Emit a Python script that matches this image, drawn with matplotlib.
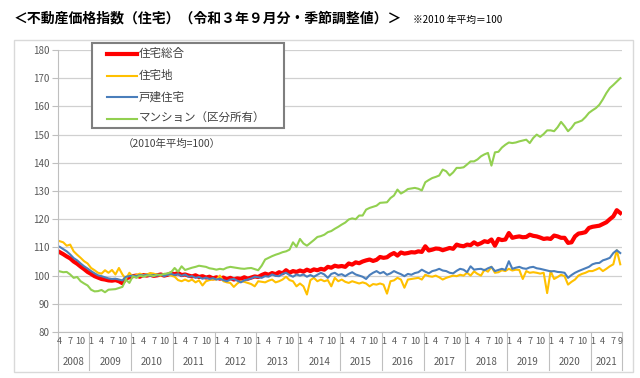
import matplotlib.pyplot as plt
from matplotlib.lines import Line2D
from matplotlib.patches import Rectangle

plt.rcParams['font.family'] = ['Noto Sans CJK JP', 'DejaVu Sans']

# monthly series, Apr 2008 - Sep 2021 (2010 average = 100)
years = list(range(2008, 2022))
start_month = 4
end_month = 9

total = [
    108.3, 107.6, 106.8, 106.1, 105.0, 104.2, 103.2, 102.3, 101.3,
    100.6, 99.8, 99.3, 98.8, 98.6, 98.3, 98.2, 98.4, 98.0, 97.3, 99.0, 99.4,
    99.8, 100.0, 99.6, 100.2, 100.0, 100.3, 99.9, 100.1, 100.4, 100.0, 100.3, 100.8,
    100.5, 100.9, 100.2, 100.4, 100.0, 99.7, 100.1, 99.5, 99.8, 99.3, 99.6, 99.0,
    99.4, 98.9, 99.3, 98.7, 99.2, 98.6, 99.0, 98.8, 99.4, 98.9, 99.3, 99.7,
    99.5, 100.2, 100.7, 100.3, 100.9, 100.5, 101.2, 100.8, 101.9, 101.0, 101.6, 101.3,
    101.8, 101.4, 102.1, 101.6, 102.2, 101.9, 102.4, 102.1, 103.1, 102.8, 103.5, 103.2,
    103.4, 103.1, 104.3, 103.9, 104.7, 104.4, 105.0, 105.4, 105.7, 105.2, 105.6, 106.6,
    106.3, 106.5, 107.4, 108.0, 107.1, 108.2, 107.8, 108.0, 108.3, 108.2, 108.6, 108.4,
    110.4, 108.9, 109.2, 109.6, 109.5, 109.0, 109.4, 109.8, 109.5, 111.0, 110.6, 110.4,
    111.0, 110.8, 111.8, 111.0, 111.5, 112.2, 111.9, 112.8, 110.6, 113.0, 112.6, 112.8,
    115.1, 113.4, 113.7, 113.9, 113.6, 113.7, 114.5, 114.1, 113.9, 113.5, 113.0, 113.2,
    113.0, 114.2, 113.9, 113.4, 113.4, 111.6, 111.8, 113.9, 114.9, 115.1, 115.4, 116.9,
    117.3, 117.5, 117.7, 118.3, 118.9, 120.0, 121.0, 123.2, 122.2,
]

land = [
    112.2, 111.8, 110.6, 111.0, 108.6, 107.4, 106.3, 105.1, 104.3,
    102.7, 101.9, 101.0, 100.7, 101.9, 101.0, 102.0, 100.4, 102.7, 100.4, 98.8, 101.0,
    99.6, 100.2, 100.7, 100.2, 100.4, 100.9, 100.7, 100.2, 100.0, 100.6, 100.4, 100.0,
    99.6, 98.4, 98.0, 98.6, 98.0, 98.6, 97.6, 98.3, 96.5, 98.0, 98.4, 98.6,
    98.6, 100.0, 98.0, 97.6, 97.4, 96.0, 97.2, 98.0, 97.8, 97.4, 97.0, 96.2,
    98.0, 97.8, 97.6, 98.2, 98.6, 97.6, 98.0, 98.6, 99.6, 98.4, 98.0, 96.2,
    97.2, 96.2, 93.3, 98.4, 99.2, 98.0, 98.6, 98.0, 98.4, 96.2, 99.2, 98.0,
    98.6, 97.8, 97.4, 98.0, 97.6, 97.2, 97.6, 97.2, 96.2, 97.0, 96.8, 97.2,
    96.8, 93.6, 98.0, 98.3, 99.2, 98.6, 95.7, 98.6, 98.8, 99.0, 99.2, 98.6,
    100.3, 99.8, 99.6, 100.0, 99.4, 98.6, 99.2, 99.6, 100.0, 99.8, 100.3, 100.0,
    101.0, 100.0, 101.5, 100.6, 100.0, 102.1, 101.4, 103.1, 101.0, 101.2, 101.9, 101.6,
    102.4, 101.8, 102.1, 102.0, 98.8, 101.6, 101.0, 101.2, 101.0, 100.7, 101.0, 93.8,
    101.6, 98.8, 99.5, 100.3, 99.8, 96.8, 97.8, 98.6, 100.0, 100.6, 101.0, 101.6,
    101.6, 102.1, 102.7, 101.6, 102.4, 103.3, 104.0, 109.0, 104.0,
]

detached = [
    110.2, 109.4, 108.6, 107.5, 106.2, 105.4, 104.3, 103.3, 102.5,
    101.6, 100.8, 100.1, 99.8, 99.4, 99.0, 98.8, 98.9, 98.6, 98.3, 99.6, 99.8,
    100.0, 99.8, 100.2, 100.0, 100.3, 99.9, 100.2, 100.0, 100.4, 99.8, 100.3, 100.6,
    100.2, 100.5, 99.9, 100.4, 99.6, 99.8, 99.2, 99.5, 98.9, 99.3, 98.8, 99.1,
    98.6, 98.9, 98.4, 98.0, 98.6, 98.8, 98.2, 97.6, 98.3, 98.6, 99.0, 99.6,
    99.4, 99.2, 99.8, 99.6, 100.4, 99.9, 99.8, 100.6, 101.0, 100.2, 99.6, 100.4,
    100.0, 100.4, 99.6, 100.2, 99.6, 100.3, 101.0, 100.4, 99.2, 100.6, 101.0, 100.2,
    100.5, 99.8, 100.6, 101.2, 100.4, 100.0, 99.6, 98.8, 100.2, 101.0, 101.6, 100.8,
    101.3, 100.3, 100.8, 101.6, 101.0, 100.5, 99.8, 100.6, 100.3, 100.9, 101.2, 102.1,
    101.4, 100.8, 101.6, 101.9, 102.4, 101.8, 101.6, 101.0, 100.8, 101.7, 102.4, 102.1,
    101.2, 103.3, 102.1, 102.3, 102.4, 101.9, 102.6, 103.1, 101.6, 102.0, 102.4, 102.0,
    105.1, 102.4, 102.8, 103.1, 102.6, 102.4, 102.9, 103.1, 102.6, 102.4, 102.1, 101.8,
    101.5, 101.6, 101.3, 101.2, 101.0, 99.2, 100.2, 101.0, 101.6, 102.1, 102.6, 103.1,
    104.0, 104.4, 104.5, 105.4, 105.8, 106.3, 108.0, 109.0, 108.0,
]

condo = [
    101.5, 101.2, 101.3, 100.4, 99.2, 99.5, 98.0, 97.2, 96.5,
    95.0, 94.4, 94.5, 94.9, 94.1, 95.0, 95.1, 95.2, 95.6, 96.0, 98.6, 97.4,
    99.8, 99.2, 100.0, 99.6, 100.0, 100.2, 99.8, 100.4, 100.2, 100.6, 100.8, 101.2,
    102.7, 101.4, 103.3, 102.0, 102.4, 102.8, 103.1, 103.5, 103.3, 103.1, 102.6, 102.4,
    102.1, 102.4, 102.2, 102.8, 103.1, 102.9, 102.7, 102.5, 102.4, 102.6, 102.7, 102.3,
    101.9, 103.5, 105.7, 106.3, 106.9, 107.4, 107.8, 108.3, 108.6, 109.2, 111.8, 110.2,
    113.0, 111.4, 110.6, 111.6, 112.6, 113.7, 114.0, 114.5, 115.4, 115.8, 116.6, 117.3,
    118.1, 118.8, 119.9, 120.3, 120.0, 121.3, 121.3, 123.4, 124.0, 124.4, 124.8, 125.8,
    125.9, 126.0, 127.5, 128.4, 130.5, 129.1, 129.8, 130.7, 130.9, 131.1, 130.8, 130.2,
    133.1, 133.9, 134.6, 135.0, 135.5, 137.6, 137.0, 135.5, 136.6, 138.2, 138.2, 138.4,
    139.4, 140.5, 140.5, 141.2, 142.3, 143.0, 143.5, 139.0, 143.7, 143.9, 145.4, 146.4,
    147.2, 147.0, 147.2, 147.6, 147.9, 148.2, 147.0, 148.8, 150.0, 149.2, 150.2, 151.5,
    151.5, 151.2, 152.6, 154.5, 153.0, 151.2, 152.4, 154.1, 154.5, 155.0, 156.2, 157.7,
    158.6, 159.4, 160.6, 162.5, 164.7, 166.5, 167.6, 168.8, 170.0,
]

series_names = ['住宅総合', '住宅地', '戸建住宅', 'マンション（区分所有）']
series_values = [total, land, detached, condo]
series_colors = ['#FF0000', '#FFC000', '#4A7EBB', '#92D050']
series_widths = [3.0, 1.5, 1.5, 1.5]

months = [(y, m) for y in years for m in range(1, 13)
          if not (y == years[0] and m < start_month)
          and not (y == years[-1] and m > end_month)]
n = len(months)
x = list(range(n))

W, H = 640, 378
fig = plt.figure(figsize=(W / 100, H / 100), dpi=100)


def fx(px):
    return px / W


def fy(py):
    return 1 - py / H


# outer chart frame
fig.add_artist(Rectangle((fx(14), fy(372)), fx(633) - fx(14), fy(40) - fy(372),
                         transform=fig.transFigure, fill=False,
                         ec='#D9D9D9', lw=1.0))

ax = fig.add_axes([fx(58), fy(332), fx(622) - fx(58), fy(50) - fy(332)])
for vals, c, lw in zip(series_values, series_colors, series_widths):
    ax.plot(x, vals, color=c, lw=lw, solid_joinstyle='round')

ax.set_xlim(-0.5, n - 0.5)
ax.set_ylim(80, 180)
ax.set_yticks(range(80, 181, 10))
ax.yaxis.grid(True, color='#D0D0D0', lw=0.9)
ax.set_axisbelow(True)
for s in ['top', 'right']:
    ax.spines[s].set_visible(False)
ax.spines['left'].set_color('#BFBFBF')
ax.spines['bottom'].set_color('#BFBFBF')
ax.set_xticks([])
ax.tick_params(axis='y', length=4, color='#BFBFBF', labelsize=7,
               labelcolor='#595959', pad=2)

# two-level category axis: months and years
trans = ax.get_xaxis_transform()
ax_h = 332 - 50
for i, (y, m) in enumerate(months):
    if m in (1, 4, 7, 10) or i == n - 1:
        ax.text(i, -10 / ax_h, str(m), transform=trans, ha='center', va='center',
                fontsize=6.5, color='#595959')
bounds = [-0.5] + [i - 0.5 for i, (y, m) in enumerate(months) if m == 1] + [n - 0.5]
for b in bounds:
    ax.plot([b, b], [0, -38 / ax_h], transform=trans, clip_on=False,
            color='#BFBFBF', lw=0.8)
for y in years:
    idx = [i for i, (yy, m) in enumerate(months) if yy == y]
    ax.text(sum(idx) / len(idx), -30 / ax_h, str(y), transform=trans,
            ha='center', va='center', fontsize=7, color='#595959')

# legend box
fig.add_artist(Rectangle((fx(92), fy(128)), fx(284) - fx(92), fy(43) - fy(128),
                         transform=fig.transFigure, fc='white', ec='#7F7F7F',
                         lw=1.5, zorder=5))
rows = [54, 75.5, 97, 118.5]
for name, c, lw, ry in zip(series_names, series_colors, series_widths, rows):
    fig.add_artist(Line2D([fx(107), fx(137)], [fy(ry), fy(ry)],
                          transform=fig.transFigure, color=c, lw=lw, zorder=6))
    fig.text(fx(139), fy(ry), name, ha='left', va='center', fontsize=8.3,
             color='#404040', zorder=6)

fig.text(fx(172), fy(144), '（2010年平均=100）', ha='center', va='center',
         fontsize=7.5, color='#404040')

fig.text(fx(14), fy(19), '＜不動産価格指数（住宅）（令和３年９月分・季節調整値）＞',
         ha='left', va='center', fontsize=10, fontweight='bold', color='black')
fig.text(fx(413), fy(20), '※2010 年平均＝100', ha='left', va='center',
         fontsize=7, color='black')

fig.savefig('out.png', dpi=100)
